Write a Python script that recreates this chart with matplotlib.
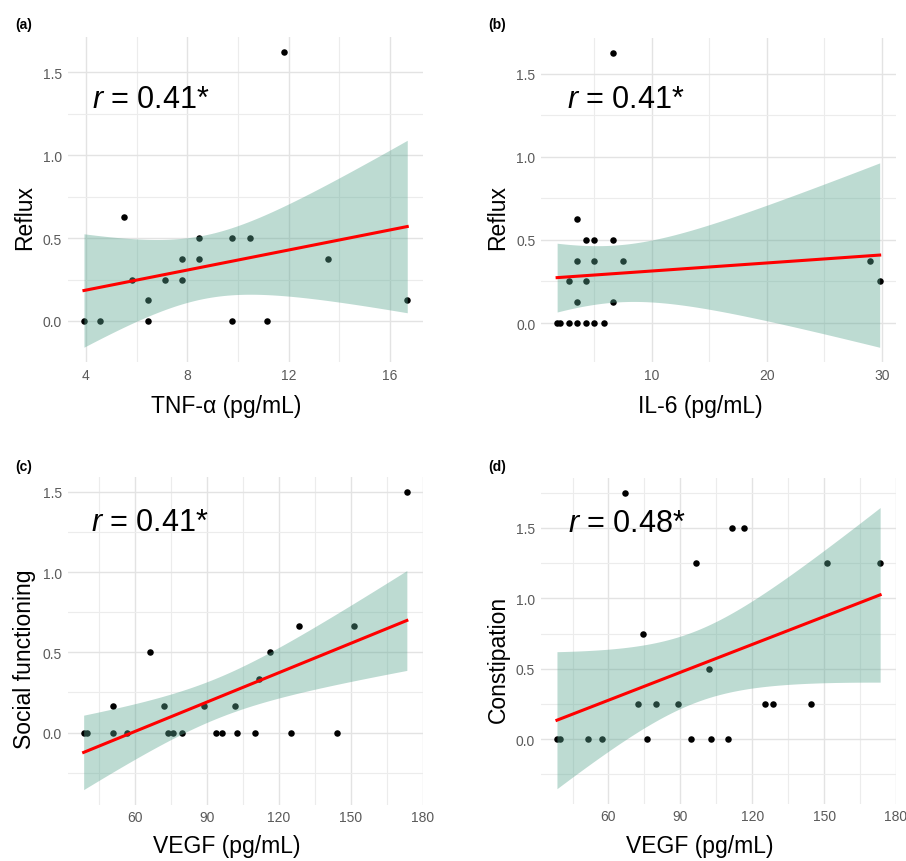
import numpy as np
import matplotlib
matplotlib.use("Agg")
import matplotlib.pyplot as plt
from matplotlib.ticker import MultipleLocator, FormatStrFormatter

plt.rcParams['font.family'] = ['Liberation Sans', 'DejaVu Sans']
plt.rcParams['mathtext.fontset'] = 'custom'
plt.rcParams['mathtext.it'] = 'Liberation Sans:italic'
plt.rcParams['mathtext.rm'] = 'Liberation Sans'

# (a) TNF-a vs reflux
tnf = [11.83, 5.49, 3.92, 4.55, 6.46, 9.78, 11.14, 16.68, 6.46, 5.80,
       7.11, 7.78, 7.78, 8.45, 13.55, 8.45, 9.78, 10.46]
reflux_a = [1.625, 0.625, 0, 0, 0, 0, 0, 0.125, 0.125, 0.25,
            0.25, 0.25, 0.375, 0.375, 0.375, 0.5, 0.5, 0.5]

# (b) IL-6 vs reflux
il6 = [6.65, 3.49, 4.25, 5.0, 6.65, 3.49, 5.0, 7.46, 28.95, 2.77, 4.25,
       29.82, 3.49, 6.65, 1.76, 2.05, 2.77, 3.49, 4.25, 5.0, 5.81]
reflux_b = [1.625, 0.625, 0.5, 0.5, 0.5, 0.375, 0.375, 0.375, 0.375, 0.25, 0.25,
            0.25, 0.125, 0.125, 0, 0, 0, 0, 0, 0, 0]

# (c) VEGF vs social functioning
vegf_c = [173.4, 66.0, 128.5, 151.3, 116.1, 111.6, 50.8, 71.9, 88.7, 101.7,
          38.5, 39.7, 50.8, 56.7, 73.5, 75.8, 79.4, 93.6, 96.1, 102.7, 110.0, 125.0, 144.4]
social = [1.5, 0.5, 0.667, 0.667, 0.5, 0.333, 0.167, 0.167, 0.167, 0.167,
          0, 0, 0, 0, 0, 0, 0, 0, 0, 0, 0, 0, 0]

# (d) VEGF vs constipation
vegf_d = [66.8, 111.7, 116.4, 96.6, 151.3, 173.4, 74.3, 102.0, 72.2, 79.8, 89.2,
          125.2, 128.8, 144.5, 38.5, 39.9, 51.6, 57.1, 76.2, 94.6, 102.8, 110.1]
constip = [1.75, 1.5, 1.5, 1.25, 1.25, 1.25, 0.75, 0.5, 0.25, 0.25, 0.25,
           0.25, 0.25, 0.25, 0, 0, 0, 0, 0, 0, 0, 0]

labels_r = ["0.41*", "0.41*", "0.41*", "0.48*"]

# t quantiles (0.975) for the lm confidence band
t975 = {16: 2.1199, 19: 2.0930, 20: 2.0860, 21: 2.0796}

W, H = 906, 862
fig = plt.figure(figsize=(W / 100, H / 100), dpi=100)


def px_rect(l, t, r, b):
    return [l / W, 1 - b / H, (r - l) / W, (b - t) / H]


def lm_band(x, y, n=80):
    x = np.asarray(x, float)
    y = np.asarray(y, float)
    b1, b0 = np.polyfit(x, y, 1)
    xs = np.linspace(x.min(), x.max(), n)
    fit = b0 + b1 * xs
    resid = y - (b0 + b1 * x)
    df = len(x) - 2
    s = np.sqrt(np.sum(resid ** 2) / df)
    se = s * np.sqrt(1 / len(x) + (xs - x.mean()) ** 2 / np.sum((x - x.mean()) ** 2))
    t = t975[df]
    return xs, fit, fit - t * se, fit + t * se


def panel(rect, x, y, xmaj, rtxt, rpos):
    ax = fig.add_axes(rect)
    xs, fit, lo, hi = lm_band(x, y)
    ax.scatter(x, y, s=22, color="black", linewidths=0, zorder=2)
    ax.fill_between(xs, lo, hi, color="#5aa690", alpha=0.4, linewidth=0, zorder=3)
    ax.plot(xs, fit, color="red", lw=2.2, zorder=4)
    ax.xaxis.set_major_locator(MultipleLocator(xmaj))
    ax.xaxis.set_minor_locator(MultipleLocator(xmaj / 2))
    ax.yaxis.set_major_locator(MultipleLocator(0.5))
    ax.yaxis.set_minor_locator(MultipleLocator(0.25))
    ax.xaxis.set_major_formatter(FormatStrFormatter('%d'))
    ax.yaxis.set_major_formatter(FormatStrFormatter('%.1f'))
    ax.set_axisbelow(True)
    ax.grid(which='major', color='#e3e3e3', lw=1.0)
    ax.grid(which='minor', color='#ececec', lw=0.8)
    for sp in ax.spines.values():
        sp.set_visible(False)
    ax.tick_params(which='both', length=0, labelsize=10, labelcolor='#5a5a5a', pad=4)
    ax.text(rpos[0], rpos[1], "$r$ = " + rtxt, fontsize=22, ha='left', va='baseline')
    return ax


panel(px_rect(67.8, 37.8, 423.4, 363), tnf, reflux_a, 4, labels_r[0], (4.22, 1.29))
panel(px_rect(541, 39, 895.8, 363), il6, reflux_b, 10, labels_r[1], (2.6, 1.30))
panel(px_rect(67.5, 478, 423, 805.5), vegf_c, social, 30, labels_r[2], (41.6, 1.26))
panel(px_rect(540.8, 479, 896.3, 804.5), vegf_d, constip, 30, labels_r[3], (43, 1.476))

# panel tags
fig.text(15 / W, 1 - 25 / H, "(a)", fontsize=10, fontweight='bold', va='center')
fig.text(488 / W, 1 - 25 / H, "(b)", fontsize=10, fontweight='bold', va='center')
fig.text(15 / W, 1 - 467 / H, "(c)", fontsize=10, fontweight='bold', va='center')
fig.text(488 / W, 1 - 467 / H, "(d)", fontsize=10, fontweight='bold', va='center')

# axis titles
fs = 16.5
fig.text(226.5 / W, 1 - 407 / H, "TNF-α (pg/mL)", fontsize=fs, ha='center', va='center')
fig.text(700 / W, 1 - 407 / H, "IL-6 (pg/mL)", fontsize=fs, ha='center', va='center')
fig.text(226.5 / W, 1 - 847 / H, "VEGF (pg/mL)", fontsize=fs, ha='center', va='center')
fig.text(700 / W, 1 - 847 / H, "VEGF (pg/mL)", fontsize=fs, ha='center', va='center')
fig.text(25 / W, 1 - 218 / H, "Reflux", fontsize=fs, rotation=90, ha='center', va='center')
fig.text(498 / W, 1 - 218 / H, "Reflux", fontsize=fs, rotation=90, ha='center', va='center')
fig.text(25 / W, 1 - 659 / H, "Social functioning", fontsize=fs, rotation=90, ha='center', va='center')
fig.text(498 / W, 1 - 659 / H, "Constipation", fontsize=fs, rotation=90, ha='center', va='center')

fig.savefig("out.png", dpi=100)
